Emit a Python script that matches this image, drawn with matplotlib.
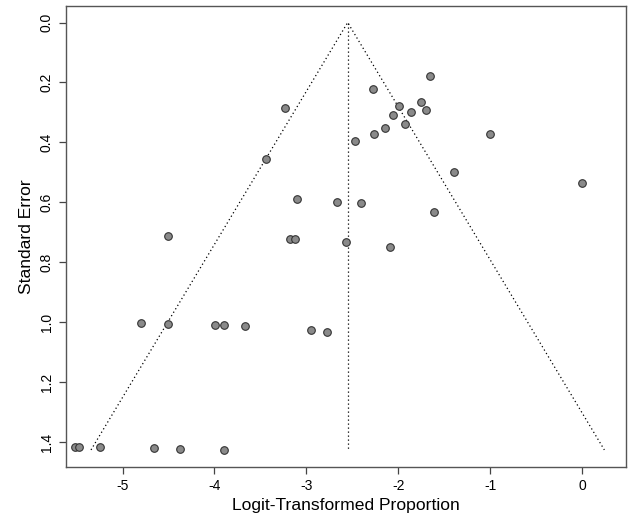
import matplotlib
matplotlib.use("Agg")
import matplotlib.pyplot as plt
import numpy as np

plt.rcParams['font.family'] = ['Liberation Sans', 'DejaVu Sans']

logit_prop = [-3.23, -3.44, -3.10, -4.50, -3.18, -3.12,
              -1.65, -2.27, -1.99, -1.755, -1.70, -1.86, -2.06, -1.93, -2.14, -2.26,
              -1.00, -2.47, -1.39, 0.00, -2.67, -2.40, -1.61, -2.57, -2.09,
              -4.80, -4.51, -3.99, -3.90, -3.67, -2.95,
              -5.52, -5.47, -5.24, -4.66, -4.37, -3.90, -2.78]
std_err = [0.284, 0.455, 0.590, 0.711, 0.722, 0.722,
           0.177, 0.221, 0.277, 0.264, 0.292, 0.299, 0.308, 0.339, 0.353, 0.373,
           0.371, 0.394, 0.499, 0.534, 0.597, 0.603, 0.633, 0.733, 0.749,
           1.003, 1.004, 1.007, 1.008, 1.012, 1.025,
           1.415, 1.415, 1.416, 1.418, 1.421, 1.426, 1.031]
pooled = -2.55
se_max = 1.425
x_ticks = [-5, -4, -3, -2, -1, 0]
y_ticks = [0.0, 0.2, 0.4, 0.6, 0.8, 1.0, 1.2, 1.4]

fig = plt.figure(figsize=(6.33, 5.19), dpi=100)
ax = fig.add_axes([0.1043, 0.1002, 0.8847, 0.8882])

dot = (0, (1, 2.2))
ax.plot([pooled - 1.96 * se_max, pooled, pooled + 1.96 * se_max], [se_max, 0, se_max],
        color='black', lw=0.9, linestyle=dot)
ax.plot([pooled, pooled], [0, se_max], color='black', lw=0.9, linestyle=dot)

ax.scatter(logit_prop, std_err, s=30, facecolor='#8a8a8a', edgecolor='#333333',
           linewidth=0.8, zorder=3)

ax.set_xlim(-5.615, 0.479)
ax.set_ylim(1.482, -0.055)
ax.set_xticks(x_ticks)
ax.set_xticklabels([str(t) for t in x_ticks])
ax.set_yticks(y_ticks)
ax.set_yticklabels([f"{t:.1f}" for t in y_ticks], rotation=90, va='center')

for sp in ax.spines.values():
    sp.set_color('#555555')
    sp.set_linewidth(1.0)
ax.tick_params(direction='out', length=5, width=0.9, color='#444444',
               labelsize=10, pad=4)

ax.set_xlabel("Logit-Transformed Proportion", fontsize=12.6, labelpad=3)
ax.set_ylabel("Standard Error", fontsize=12.6, labelpad=4)

fig.savefig("out.png", dpi=100)
